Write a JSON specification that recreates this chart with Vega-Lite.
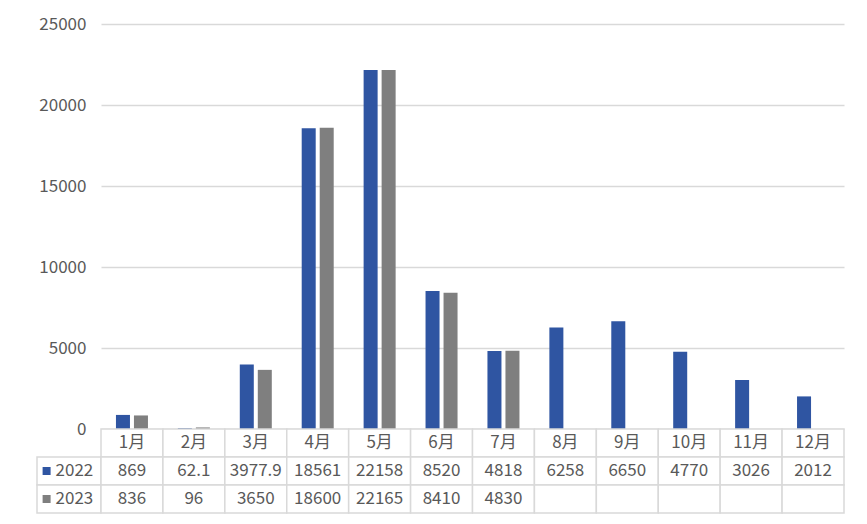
{
  "$schema": "https://vega.github.io/schema/vega-lite/v6.json",
  "background": "white",
  "padding": {"top": 15, "left": 36, "right": 24, "bottom": 11},
  "config": {
    "view": {"stroke": null},
    "font": "Noto Sans CJK SC",
    "text": {"font": "Noto Sans CJK SC"}
  },
  "datasets": {
    "vals": [
      {"m": "1月", "year": "2022", "v": 869},
      {"m": "2月", "year": "2022", "v": 62.1},
      {"m": "3月", "year": "2022", "v": 3977.9},
      {"m": "4月", "year": "2022", "v": 18561},
      {"m": "5月", "year": "2022", "v": 22158},
      {"m": "6月", "year": "2022", "v": 8520},
      {"m": "7月", "year": "2022", "v": 4818},
      {"m": "8月", "year": "2022", "v": 6258},
      {"m": "9月", "year": "2022", "v": 6650},
      {"m": "10月", "year": "2022", "v": 4770},
      {"m": "11月", "year": "2022", "v": 3026},
      {"m": "12月", "year": "2022", "v": 2012},
      {"m": "1月", "year": "2023", "v": 836},
      {"m": "2月", "year": "2023", "v": 96},
      {"m": "3月", "year": "2023", "v": 3650},
      {"m": "4月", "year": "2023", "v": 18600},
      {"m": "5月", "year": "2023", "v": 22165},
      {"m": "6月", "year": "2023", "v": 8410},
      {"m": "7月", "year": "2023", "v": 4830},
      {"m": "8月", "year": "2023", "v": null},
      {"m": "9月", "year": "2023", "v": null},
      {"m": "10月", "year": "2023", "v": null},
      {"m": "11月", "year": "2023", "v": null},
      {"m": "12月", "year": "2023", "v": null}
    ],
    "hdr": [
      {"m": "1月", "year": "header"}, {"m": "2月", "year": "header"}, {"m": "3月", "year": "header"},
      {"m": "4月", "year": "header"}, {"m": "5月", "year": "header"}, {"m": "6月", "year": "header"},
      {"m": "7月", "year": "header"}, {"m": "8月", "year": "header"}, {"m": "9月", "year": "header"},
      {"m": "10月", "year": "header"}, {"m": "11月", "year": "header"}, {"m": "12月", "year": "header"}
    ],
    "years": [{"year": "2022"}, {"year": "2023"}]
  },
  "columns": 2,
  "spacing": 0,
  "bounds": "flush",
  "concat": [
    {
      "width": 64,
      "height": 405,
      "data": {"name": "years"},
      "mark": {"type": "point", "opacity": 0},
      "encoding": {}
    },
    {
      "width": 743,
      "height": 405,
      "data": {"name": "vals"},
      "transform": [{"filter": "datum.v != null"}],
      "mark": {"type": "bar"},
      "encoding": {
        "x": {
          "field": "m", "type": "nominal", "sort": null,
          "scale": {"domain": ["1月","2月","3月","4月","5月","6月","7月","8月","9月","10月","11月","12月"], "paddingInner": 0.483, "paddingOuter": 0.2415},
          "axis": null
        },
        "xOffset": {"field": "year", "type": "nominal", "scale": {"paddingInner": 0.222, "paddingOuter": 0}},
        "y": {
          "field": "v", "type": "quantitative",
          "scale": {"domain": [0, 25000]},
          "axis": {
            "title": null, "values": [0, 5000, 10000, 15000, 20000, 25000], "format": "d",
            "domain": false, "ticks": false, "labelPadding": 15,
            "labelFontSize": 17, "labelColor": "#595959", "labelFont": "Noto Sans CJK SC",
            "gridColor": "#d9d9d9", "gridWidth": 1.3
          }
        },
        "color": {
          "field": "year", "type": "nominal",
          "scale": {"domain": ["2022", "2023"], "range": ["#2f55a2", "#7f7f7f"]},
          "legend": null
        }
      }
    },
    {
      "width": 64,
      "height": 84,
      "data": {"name": "years"},
      "layer": [
        {
          "mark": {"type": "rect", "fill": "white", "stroke": "#d9d9d9", "strokeWidth": 1.5},
          "encoding": {
            "x": {"datum": "legend", "type": "nominal", "scale": {"paddingInner": 0, "paddingOuter": 0}, "axis": null},
            "y": {"field": "year", "type": "nominal", "scale": {"domain": ["header", "2022", "2023"], "paddingInner": 0, "paddingOuter": 0}, "axis": null}
          }
        },
        {
          "mark": {"type": "point", "shape": "square", "filled": true, "size": 64, "opacity": 1},
          "encoding": {
            "x": {"datum": "legend", "type": "nominal", "bandPosition": 0.15},
            "y": {"field": "year", "type": "nominal"},
            "color": {"field": "year", "type": "nominal", "scale": {"domain": ["2022", "2023"], "range": ["#2f55a2", "#7f7f7f"]}, "legend": null}
          }
        },
        {
          "mark": {"type": "text", "align": "left", "baseline": "middle", "fontSize": 17, "color": "#595959"},
          "encoding": {
            "x": {"datum": "legend", "type": "nominal", "bandPosition": 0.29},
            "y": {"field": "year", "type": "nominal"},
            "text": {"field": "year", "type": "nominal"}
          }
        }
      ],
      "resolve": {"scale": {"color": "independent"}}
    },
    {
      "width": 743,
      "height": 84,
      "layer": [
        {
          "data": {"name": "hdr"},
          "mark": {"type": "rect", "fill": "white", "stroke": "#d9d9d9", "strokeWidth": 1.5},
          "encoding": {
            "x": {"field": "m", "type": "nominal", "sort": null, "scale": {"domain": ["1月","2月","3月","4月","5月","6月","7月","8月","9月","10月","11月","12月"], "paddingInner": 0, "paddingOuter": 0}, "axis": null},
            "y": {"field": "year", "type": "nominal", "scale": {"domain": ["header", "2022", "2023"], "paddingInner": 0, "paddingOuter": 0}, "axis": null}
          }
        },
        {
          "data": {"name": "vals"},
          "mark": {"type": "rect", "fill": "white", "stroke": "#d9d9d9", "strokeWidth": 1.5},
          "encoding": {
            "x": {"field": "m", "type": "nominal"},
            "y": {"field": "year", "type": "nominal"}
          }
        },
        {
          "data": {"name": "hdr"},
          "mark": {"type": "text", "baseline": "middle", "fontSize": 17, "color": "#595959"},
          "encoding": {
            "x": {"field": "m", "type": "nominal"},
            "y": {"field": "year", "type": "nominal"},
            "text": {"field": "m", "type": "nominal"}
          }
        },
        {
          "data": {"name": "vals"},
          "transform": [{"filter": "datum.v != null"}],
          "mark": {"type": "text", "baseline": "middle", "fontSize": 17, "color": "#595959"},
          "encoding": {
            "x": {"field": "m", "type": "nominal"},
            "y": {"field": "year", "type": "nominal"},
            "text": {"field": "v", "type": "nominal"}
          }
        }
      ]
    }
  ]
}
